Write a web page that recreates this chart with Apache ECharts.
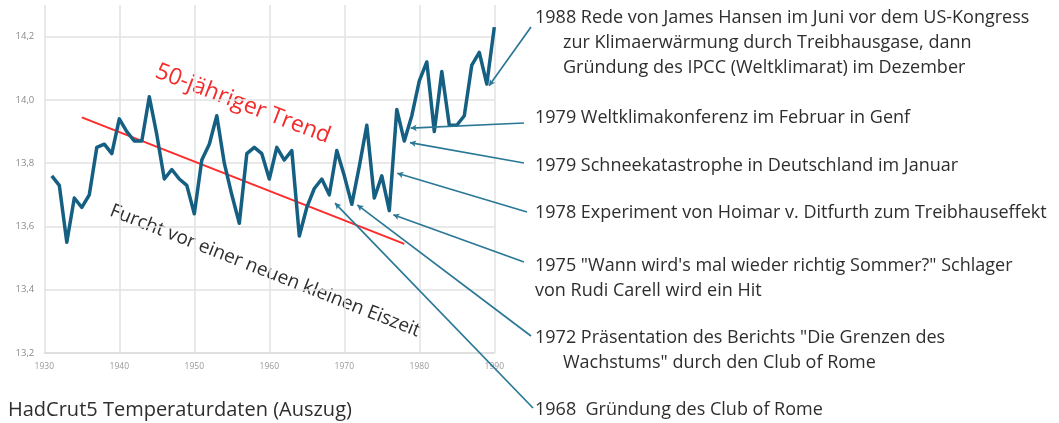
<!DOCTYPE html>
<html>
<head>
<meta charset="utf-8">
<script src="https://cdn.jsdelivr.net/npm/echarts@6/dist/echarts.min.js"></script>
<style>
  html, body { margin: 0; padding: 0; background: #ffffff; }
  #chart { width: 1059px; height: 423px; }
</style>
</head>
<body>
<div id="chart"></div>
<script>
// HadCRUT5 annual mean temperature (°C), 1931–1990
const years = [
  1931, 1932, 1933, 1934, 1935, 1936, 1937, 1938, 1939, 1940,
  1941, 1942, 1943, 1944, 1945, 1946, 1947, 1948, 1949, 1950,
  1951, 1952, 1953, 1954, 1955, 1956, 1957, 1958, 1959, 1960,
  1961, 1962, 1963, 1964, 1965, 1966, 1967, 1968, 1969, 1970,
  1971, 1972, 1973, 1974, 1975, 1976, 1977, 1978, 1979, 1980,
  1981, 1982, 1983, 1984, 1985, 1986, 1987, 1988, 1989, 1990
];
const temps = [
  13.76, 13.73, 13.55, 13.69, 13.66, 13.70, 13.85, 13.86, 13.83, 13.94,
  13.90, 13.87, 13.87, 14.01, 13.89, 13.75, 13.78, 13.75, 13.73, 13.64,
  13.81, 13.86, 13.95, 13.80, 13.70, 13.61, 13.83, 13.85, 13.83, 13.75,
  13.85, 13.81, 13.84, 13.57, 13.66, 13.72, 13.75, 13.70, 13.84, 13.76,
  13.67, 13.79, 13.92, 13.69, 13.76, 13.65, 13.97, 13.87, 13.95, 14.06,
  14.12, 13.90, 14.09, 13.92, 13.92, 13.95, 14.11, 14.15, 14.05, 14.23
];

// 50-year trend line (start and end)
const trendYears = [1935, 1978];
const trendTemps = [13.945, 13.545];

// Axis ranges and tick steps
const xRange = [1930, 1990];
const xStep = 10;
const yRange = [13.2, 14.3];
const yStep = 0.2;

// Event notes: text lines (second and later lines are indented) and the point each arrow touches
const noteLines = [
  ['1988 Rede von James Hansen im Juni vor dem US-Kongress',
   'zur Klimaerwärmung durch Treibhausgase, dann',
   'Gründung des IPCC (Weltklimarat) im Dezember'],
  ['1979 Weltklimakonferenz im Februar in Genf'],
  ['1979 Schneekatastrophe in Deutschland im Januar'],
  ['1978 Experiment von Hoimar v. Ditfurth zum Treibhauseffekt'],
  ['1975 "Wann wird\'s mal wieder richtig Sommer?" Schlager',
   'von Rudi Carell wird ein Hit'],
  ['1972 Präsentation des Berichts "Die Grenzen des',
   'Wachstums" durch den Club of Rome'],
  ['1968  Gründung des Club of Rome']
];
const noteIndented = [true, false, false, false, false, true, false];
const noteAnchorYears = [1989.3, 1978.85, 1978.76, 1977.07, 1976.53, 1971.73, 1968.76];
const noteAnchorTemps = [14.045, 13.911, 13.865, 13.768, 13.637, 13.668, 13.674];

const trendLabel = '50-jähriger Trend';
const fearLabel = 'Furcht vor einer neuen kleinen Eiszeit';
const sourceLabel = 'HadCrut5 Temperaturdaten (Auszug)';

// ---- layout ----
const TEAL = '#156082';
const TEXT = '#2e2e2e';
const FONT = '"Open Sans", "Noto Sans", sans-serif';
const noteLeft = 535, noteIndent = 563, noteLineGap = 25;
const noteTops = [18, 118, 166, 213, 266, 338, 410];   // centre of each note's first line
const noteLineEnds = [[531, 27], [524, 123], [524, 163], [527, 212], [524, 262], [531, 336], [533, 408]];

const graphics = [];
noteLines.forEach((lines, i) => {
  lines.forEach((t, j) => {
    graphics.push({
      type: 'text',
      x: (j > 0 && noteIndented[i]) ? noteIndent : noteLeft,
      y: noteTops[i] + j * noteLineGap,
      silent: true,
      style: {
        text: t, fill: TEXT, fontSize: 18, fontFamily: FONT,
        align: 'left', verticalAlign: 'middle'
      }
    });
  });
});
graphics.push({
  type: 'text', x: 243, y: 104, rotation: -21 * Math.PI / 180, silent: true,
  style: { text: trendLabel, fill: '#f52a2a', fontSize: 23, fontFamily: FONT, align: 'center', verticalAlign: 'middle' }
});
graphics.push({
  type: 'text', x: 265, y: 271, rotation: -21.5 * Math.PI / 180, silent: true,
  style: { text: fearLabel, fill: TEXT, fontSize: 19, fontFamily: FONT, align: 'center', verticalAlign: 'middle' }
});
graphics.push({
  type: 'text', x: 8, y: 410, silent: true,
  style: { text: sourceLabel, fill: TEXT, fontSize: 20, fontFamily: FONT, align: 'left', verticalAlign: 'middle' }
});

const chart = echarts.init(document.getElementById('chart'), null, { renderer: 'canvas' });

chart.setOption({
  animation: false,
  backgroundColor: '#ffffff',
  grid: { left: 44.3, right: 1059 - 494.3, top: 5, bottom: 423 - 353 },
  xAxis: {
    type: 'value',
    min: xRange[0], max: xRange[1], interval: xStep,
    axisLine: { show: true, lineStyle: { color: '#dcdcdc', width: 1.5 } },
    axisTick: { show: false },
    axisLabel: { color: '#9a9a9a', fontSize: 8.5, fontFamily: FONT, margin: 9, formatter: v => String(v) },
    splitLine: { show: true, lineStyle: { color: '#e2e2e2', width: 1.5 } }
  },
  yAxis: {
    type: 'value',
    min: yRange[0], max: yRange[1], interval: yStep,
    axisLine: { show: false },
    axisTick: { show: false },
    axisLabel: {
      color: '#8a8a8a', fontSize: 9.5, fontFamily: FONT, margin: 10, showMaxLabel: false,
      formatter: v => v.toFixed(1).replace('.', ',')
    },
    splitLine: { show: true, showMaxLine: false, lineStyle: { color: '#e2e2e2', width: 1.5 } }
  },
  series: [
    {
      name: 'trend',
      type: 'line',
      data: trendYears.map((y, i) => [y, trendTemps[i]]),
      symbol: 'none',
      lineStyle: { color: '#ff2a2a', width: 2 },
      silent: true,
      z: 3
    },
    {
      name: 'HadCRUT5',
      type: 'line',
      data: years.map((y, i) => [y, temps[i]]),
      symbol: 'none',
      lineStyle: { color: TEAL, width: 3.5, join: 'round' },
      silent: true,
      z: 4,
      markLine: {
        silent: true,
        animation: false,
        symbol: ['arrow', 'none'],
        symbolSize: [5, 6],
        label: { show: false },
        emphasis: { disabled: true },
        lineStyle: { color: '#2a7896', width: 1.7, type: 'solid' },
        data: noteAnchorYears.map((yr, i) => [
          { coord: [yr, noteAnchorTemps[i]] },
          { x: noteLineEnds[i][0], y: noteLineEnds[i][1] }
        ])
      }
    }
  ],
  graphic: graphics
});
</script>
</body>
</html>
